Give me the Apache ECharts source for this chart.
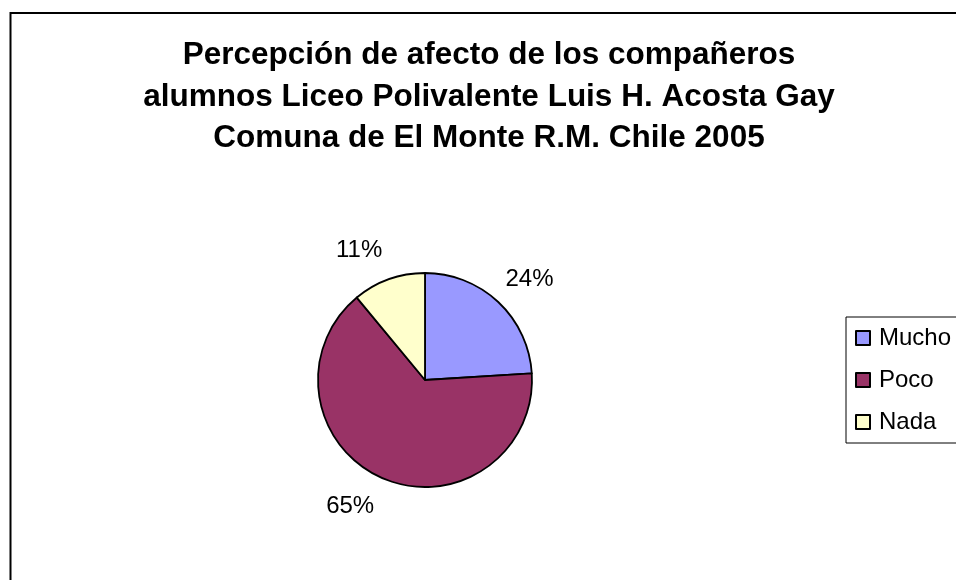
<!DOCTYPE html>
<html>
<head>
<meta charset="utf-8">
<script src="https://cdn.jsdelivr.net/npm/echarts@6/dist/echarts.min.js"></script>
<style>
html,body{margin:0;padding:0;background:#fff;}
#chart{width:956px;height:580px;}
</style>
</head>
<body>
<div id="chart"></div>
<script>
const titleLines = [
  'Percepción de afecto de los compañeros',
  'alumnos Liceo Polivalente Luis H. Acosta Gay',
  'Comuna de El Monte R.M. Chile 2005'
];
const categories = ['Mucho', 'Poco', 'Nada'];
const values = [24, 65, 11];
const colors = ['#9999FF', '#993366', '#FFFFCC'];
const labelLen2 = [-19, -9, -9];

const chart = echarts.init(document.getElementById('chart'), null, {renderer: 'canvas'});
const font = '"Liberation Sans", Arial, Helvetica, sans-serif';

chart.setOption({
  animation: false,
  backgroundColor: '#ffffff',
  title: {
    text: titleLines.join('\n'),
    left: 484,
    top: 30,
    textAlign: 'center',
    textStyle: {
      fontFamily: font,
      fontSize: 31.5,
      fontWeight: 'bold',
      color: '#000',
      lineHeight: 41.5
    }
  },
  graphic: [{
    type: 'rect',
    shape: {x: 10.5, y: 13, width: 1000, height: 1000},
    style: {fill: 'none', stroke: '#000', lineWidth: 2},
    silent: true
  }],
  legend: {
    orient: 'vertical',
    left: 846,
    top: 317,
    itemWidth: 14,
    itemHeight: 14,
    itemGap: 18,
    padding: [9, 20, 9, 9],
    borderColor: '#000',
    borderWidth: 1,
    icon: 'rect',
    data: categories,
    textStyle: {
      fontFamily: font,
      fontSize: 24,
      color: '#000',
      padding: [0, 0, 0, 4]
    }
  },
  series: [{
    type: 'pie',
    center: [425, 380],
    radius: 107,
    startAngle: 90,
    clockwise: true,
    avoidLabelOverlap: false,
    itemStyle: {borderColor: '#000', borderWidth: 1.8},
    label: {
      show: true,
      position: 'outside',
      formatter: '{d}%',
      fontFamily: font,
      fontSize: 24,
      color: '#000'
    },
    labelLine: {show: false, length: 31, length2: -9},
    emphasis: {disabled: true},
    data: categories.map((c, i) => ({
      name: c,
      value: values[i],
      itemStyle: {color: colors[i]},
      labelLine: {show: false, length: 31, length2: labelLen2[i]}
    }))
  }]
});
</script>
</body>
</html>
